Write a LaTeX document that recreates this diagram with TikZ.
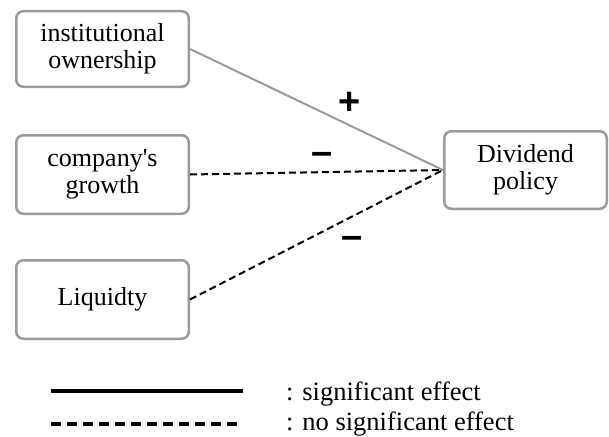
\documentclass[tikz,border=0pt]{standalone}
\usepackage{fontspec}
\setmainfont{Liberation Serif}
\newfontfamily\signfont{Liberation Sans}
\definecolor{boxgray}{HTML}{9A9A9A}
\begin{document}
\begin{tikzpicture}[x=1pt,y=-1pt,
  box/.style={draw=boxgray, line width=2.5pt, rounded corners=7pt, align=center, inner sep=0pt,
    font=\fontsize{26}{27}\selectfont},
  solidlink/.style={draw=boxgray, line width=2pt},
  dashlink/.style={draw=black, line width=2pt, dash pattern=on 7pt off 4pt},
  signlabel/.style={font=\signfont\bfseries\fontsize{38}{38}\selectfont, inner sep=0pt},
  legtext/.style={font=\fontsize{26.5}{27}\selectfont, inner sep=0pt, anchor=base west}]
\useasboundingbox (0,0) rectangle (609,436);
\node[box, minimum width=172.5pt, minimum height=75.5pt] (inst) at (102.5,49) {institutional\\ownership};
\node[box, minimum width=172.5pt, minimum height=78.5pt] (grow) at (102.5,174.5) {company\textquotesingle s\\growth};
\node[box, minimum width=172.5pt, minimum height=78.5pt] (liq) at (102.5,299.5) {Liquidty};
\node[box, minimum width=162.5pt, minimum height=77.5pt] (div) at (525.5,170) {Dividend\\policy};
\draw[solidlink] (inst.east) -- (div.west);
\draw[dashlink] (grow.east) -- (div.west);
\draw[dashlink] (liq.east) -- (div.west);
\node[signlabel] (plus) at (350,103) {+};
\node[signlabel] (m1) at (322,158) {–};
\node[signlabel] (m2) at (352,242) {–};
\coordinate (s1) at (51,391);
\coordinate (s2) at (243,391);
\coordinate (d1) at (51,424);
\coordinate (d2) at (240,424);
\draw[black, line width=4pt] (s1) -- (s2);
\draw[black, line width=3.5pt, dash pattern=on 10pt off 6pt] (d1) -- (d2);
\node[legtext] (t1) at (286,400) {: significant effect};
\node[legtext] (t2) at (286,430) {: no significant effect};
\end{tikzpicture}
\end{document}
